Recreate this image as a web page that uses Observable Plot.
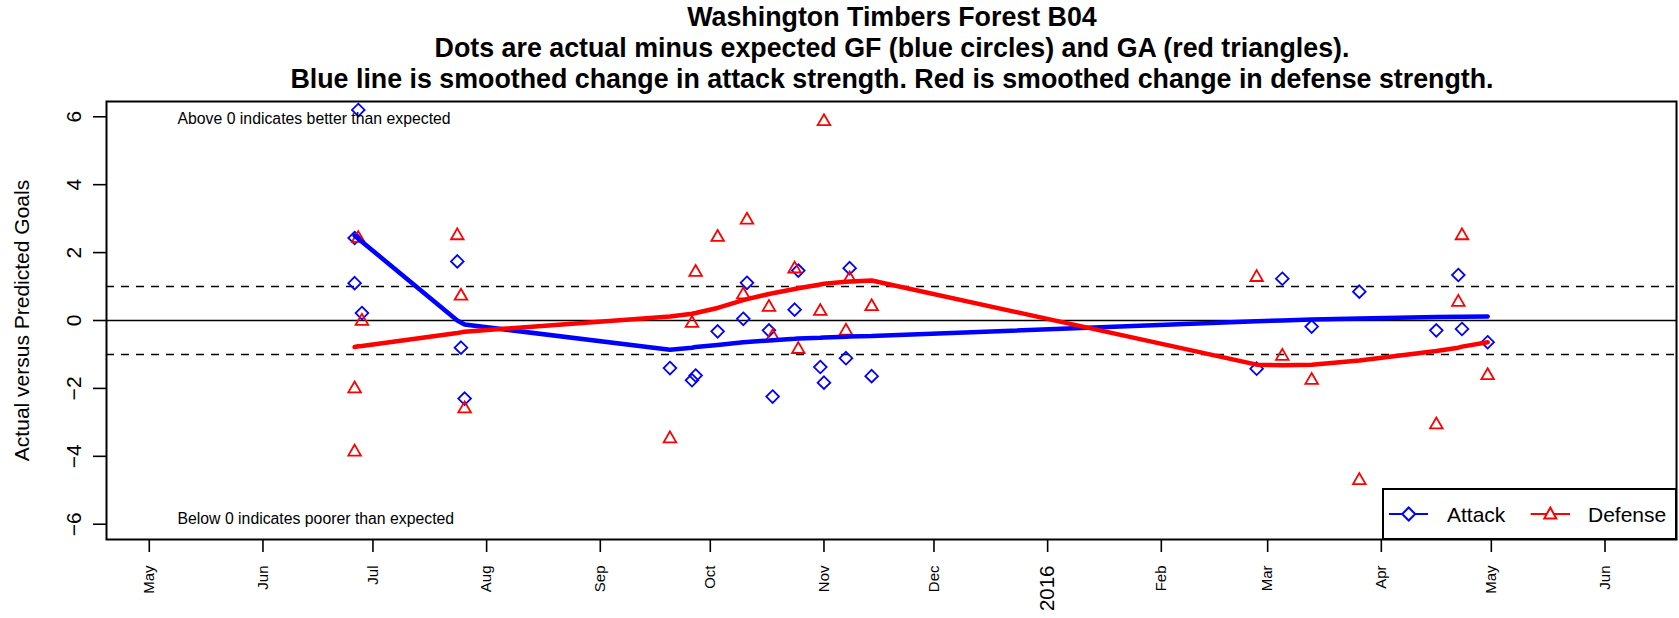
<!DOCTYPE html>
<html>
<head>
<meta charset="utf-8">
<script src="https://cdn.jsdelivr.net/npm/d3@7"></script>
<script src="https://cdn.jsdelivr.net/npm/@observablehq/plot@0.6"></script>
<style>
  body { margin: 0; background: #fff; font-family: "Liberation Sans", Arial, Helvetica, sans-serif; }
  #wrap { position: relative; width: 1679px; height: 618px; overflow: hidden; background: #fff; }
  .tline { position: absolute; left: 0; width: 1784px; text-align: center; font-weight: bold; font-size: 26.8px; line-height: 31px; white-space: nowrap; color: #000; z-index: 2; }
  #chart { position: absolute; left: 0; top: 90px; z-index: 1; }
  #legend { position: absolute; left: 1382px; top: 488px; width: 295px; height: 52px; z-index: 3; }
</style>
</head>
<body>
<div id="wrap">
  <div class="tline" style="top:2px">Washington Timbers Forest B04</div>
  <div class="tline" style="top:33px">Dots are actual minus expected GF (blue circles) and GA (red triangles).</div>
  <div class="tline" style="top:64px">Blue line is smoothed change in attack strength. Red is smoothed change in defense strength.</div>
  <div id="chart"></div>
  <svg id="legend" width="295" height="52" xmlns="http://www.w3.org/2000/svg">
    <rect x="1" y="1" width="293" height="50" fill="white" stroke="black" stroke-width="2"/>
    <line x1="7" y1="26" x2="46" y2="26" stroke="blue" stroke-width="2"/>
    <path d="M26.7,19.5L33.2,26L26.7,32.5L20.2,26Z" fill="white" stroke="blue" stroke-width="2"/>
    <text x="65" y="33.5" font-size="21" font-family="Liberation Sans, Arial, sans-serif">Attack</text>
    <line x1="148.7" y1="26" x2="188" y2="26" stroke="red" stroke-width="2"/>
    <path d="M168.3,19.5L174.3,30.5L162.3,30.5Z" fill="white" stroke="red" stroke-width="2"/>
    <text x="206" y="33.5" font-size="21" font-family="Liberation Sans, Arial, sans-serif">Defense</text>
  </svg>
</div>
<script>
// ---- data ----
const gameDates = [
  "2015-06-26","2015-06-26","2015-06-27","2015-06-28",
  "2015-07-24","2015-07-25","2015-07-26",
  "2015-09-20","2015-09-26","2015-09-27","2015-10-03","2015-10-10","2015-10-11",
  "2015-10-17","2015-10-18","2015-10-24","2015-10-25","2015-10-31","2015-11-01",
  "2015-11-07","2015-11-08","2015-11-14",
  "2016-02-27","2016-03-05","2016-03-13","2016-03-26","2016-04-16","2016-04-22",
  "2016-04-23","2016-04-30"
];
const attack = [
  2.43, 1.10, 6.20, 0.22,
  1.74, -0.80, -2.30,
  -1.40, -1.76, -1.62, -0.32, 0.05, 1.11,
  -0.29, -2.24, 0.32, 1.47, -1.37, -1.83,
  -1.11, 1.54, -1.64,
  -1.42, 1.23, -0.18, 0.85, -0.29, 1.34,
  -0.25, -0.64
];
const defense = [
  -2.01, -3.87, 2.42, -0.02,
  2.50, 0.72, -2.60,
  -3.48, -0.08, 1.42, 2.45, 0.76, 2.96,
  0.39, -0.47, 1.52, -0.85, 0.27, 5.86,
  -0.31, 1.23, 0.41,
  1.27, -1.05, -1.76, -4.71, -3.07, 0.54,
  2.50, -1.62
];
const attackSmooth = [
  2.50, 2.50, 2.41, 2.32,
  0.00, -0.06, -0.12,
  -0.86, -0.80, -0.78, -0.72, -0.64, -0.63,
  -0.59, -0.58, -0.54, -0.53, -0.51, -0.50,
  -0.48, -0.47, -0.46,
  -0.02, 0.00, 0.03, 0.06, 0.10, 0.11,
  0.11, 0.12
];
const defenseSmooth = [
  -0.78, -0.78, -0.76, -0.75,
  -0.37, -0.35, -0.33,
  0.12, 0.20, 0.22, 0.37, 0.60, 0.63,
  0.78, 0.80, 0.93, 0.95, 1.06, 1.08,
  1.14, 1.15, 1.18,
  -1.30, -1.32, -1.30, -1.18, -0.90, -0.80,
  -0.77, -0.64
];
const xTickDates = [
  "2015-05-01","2015-06-01","2015-07-01","2015-08-01","2015-09-01","2015-10-01","2015-11-01",
  "2015-12-01","2016-01-01","2016-02-01","2016-03-01","2016-04-01","2016-05-01","2016-06-01"
];
const xTickLabels = ["May","Jun","Jul","Aug","Sep","Oct","Nov","Dec","2016","Feb","Mar","Apr","May","Jun"];
const yTicks = [-6, -4, -2, 0, 2, 4, 6];
const yTickLabels = ["\u22126", "\u22124", "\u22122", "0", "2", "4", "6"];
const refLines = [-1, 1];
const xDomain = ["2015-04-19T08:00:00Z", "2016-06-20T12:00:00Z"];
const yDomain = [-6.45, 6.45];

// ---- build ----
const games = gameDates.map((d, i) => ({
  date: new Date(d + "T00:00:00Z"),
  attack: attack[i], defense: defense[i],
  attackSmooth: attackSmooth[i], defenseSmooth: defenseSmooth[i]
}));
const xticks = xTickDates.map((d, i) => ({date: new Date(d + "T00:00:00Z"), label: xTickLabels[i]}));
const yticks = yTicks.map((v, i) => ({v, label: yTickLabels[i]}));
const font = "'Liberation Sans', Arial, Helvetica, sans-serif";

const chart = Plot.plot({
  width: 1679,
  height: 528,
  marginTop: 11,
  marginBottom: 79,
  marginLeft: 106,
  marginRight: 3,
  style: {fontFamily: font, background: "transparent", color: "black", overflow: "visible"},
  x: {type: "utc", domain: xDomain.map(d => new Date(d))},
  y: {domain: yDomain},
  marks: [
    Plot.ruleY(refLines, {stroke: "black", strokeWidth: 1.6, strokeDasharray: "8,7"}),
    Plot.ruleY([0], {stroke: "black", strokeWidth: 1.6}),
    Plot.dot(games, {x: "date", y: "attack", symbol: "diamond2", stroke: "blue", fill: "none", r: 5.7, strokeWidth: 1.8}),
    Plot.dot(games, {x: "date", y: "defense", symbol: "triangle2", stroke: "red", fill: "none", r: 6.0, strokeWidth: 1.8}),
    Plot.line(games, {x: "date", y: "attackSmooth", stroke: "blue", strokeWidth: 4.5}),
    Plot.line(games, {x: "date", y: "defenseSmooth", stroke: "red", strokeWidth: 4.5}),
    Plot.frame({stroke: "black", strokeWidth: 2}),
    Plot.axisY({ticks: yTicks, tickSize: 13, tickFormat: () => "", label: null, strokeWidth: 1.6}),
    Plot.text(yticks, {y: "v", text: "label", frameAnchor: "left", dx: -32, rotate: -90,
      textAnchor: "middle", lineAnchor: "middle", fontSize: 21, fill: "black"}),
    Plot.axisX({ticks: xticks.map(d => d.date), tickSize: 13, tickFormat: () => "", label: null, strokeWidth: 1.6}),
    Plot.text(xticks.filter(d => d.label !== "2016"), {x: "date", text: "label", frameAnchor: "bottom", dy: 26,
      rotate: -90, textAnchor: "end", lineAnchor: "middle", fontSize: 15, fill: "black"}),
    Plot.text(xticks.filter(d => d.label === "2016"), {x: "date", text: "label", frameAnchor: "bottom", dy: 26,
      rotate: -90, textAnchor: "end", lineAnchor: "middle", fontSize: 20.5, fill: "black"}),
    Plot.text(["Actual versus Predicted Goals"], {text: d => d, frameAnchor: "left", dx: -84, rotate: -90,
      textAnchor: "middle", lineAnchor: "middle", fontSize: 21, fill: "black"}),
    Plot.text(["Above 0 indicates better than expected"], {text: d => d, frameAnchor: "top-left", dx: 71, dy: 17,
      textAnchor: "start", lineAnchor: "middle", fontSize: 15.8, fill: "black"}),
    Plot.text(["Below 0 indicates poorer than expected"], {text: d => d, frameAnchor: "bottom-left", dx: 71, dy: -21,
      textAnchor: "start", lineAnchor: "middle", fontSize: 15.8, fill: "black"})
  ]
});
document.getElementById("chart").appendChild(chart);
</script>
</body>
</html>
